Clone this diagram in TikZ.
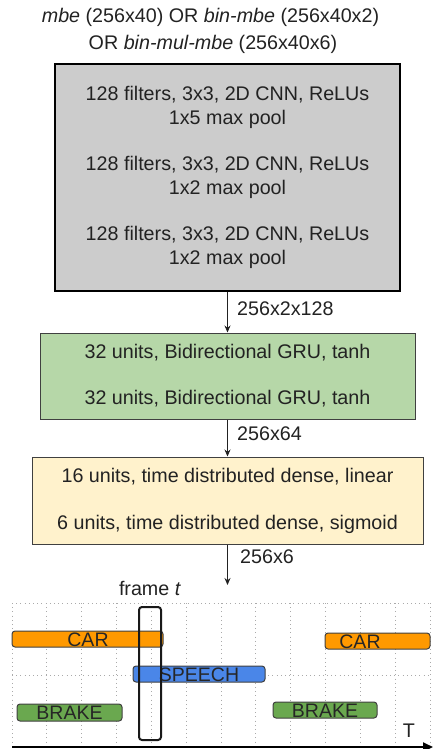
\documentclass[tikz,border=0pt]{standalone}
\usepackage{fontspec}
\setmainfont{Liberation Sans}
\usetikzlibrary{arrows.meta}
\definecolor{txt}{HTML}{222222}
\definecolor{cnnfill}{HTML}{CCCCCC}
\definecolor{grufill}{HTML}{B6D7A8}
\definecolor{densefill}{HTML}{FFF2CC}
\definecolor{carc}{HTML}{FF9900}
\definecolor{speechc}{HTML}{4A86E8}
\definecolor{brakec}{HTML}{6AA84F}
\definecolor{gridc}{HTML}{AAAAAA}
\tikzset{
  main/.style={font=\fontsize{19.7}{24}\selectfont, text=txt},
  layerbox/.style={main, rectangle, align=center, inner sep=0pt},
  flow/.style={line width=1pt, draw=txt, -{Stealth[length=7pt,width=6pt]}},
  dimlabel/.style={main, anchor=west, inner sep=0pt},
  bar/.style={rectangle, rounded corners=3pt, draw=black!75, line width=1pt, inner sep=0pt},
  barlabel/.style={font=\fontsize{19.5}{22}\selectfont, text=black!85, inner sep=0pt},
  gridline/.style={draw=gridc, line width=0.9pt, dash pattern=on 1pt off 3.2pt},
}
\begin{document}
\begin{tikzpicture}[x=1pt,y=-1pt]
\useasboundingbox (0,0) rectangle (433,749);
% title
\node[main, inner sep=0pt] (t1) at (210.5,17) {\textit{mbe} (256x40) OR \textit{bin-mbe} (256x40x2)};
\node[main, inner sep=0pt] (t2) at (213,44) {OR \textit{bin-mul-mbe} (256x40x6)};
% layer boxes
\node[layerbox, fill=cnnfill, draw=black, line width=2pt, minimum width=345pt, minimum height=227pt] (cnn) at (227.5,177.5)
  {128 filters, 3x3, 2D CNN, ReLUs\\1x5 max pool\\[22pt]128 filters, 3x3, 2D CNN, ReLUs\\1x2 max pool\\[22pt]128 filters, 3x3, 2D CNN, ReLUs\\1x2 max pool};
\node[layerbox, fill=grufill, draw=black!75, line width=1pt, minimum width=375pt, minimum height=86pt] (gru) at (227.5,376)
  {32 units, Bidirectional GRU, tanh\\[22pt]32 units, Bidirectional GRU, tanh};
\node[layerbox, fill=densefill, draw=black!75, line width=1pt, minimum width=391pt, minimum height=87pt] (dense) at (227.5,500.5)
  {16 units, time distributed dense, linear\\[23pt]6 units, time distributed dense, sigmoid};
\coordinate (out) at (227.5,585);
\draw[flow] (cnn.south) -- (gru.north);
\draw[flow] (gru.south) -- (dense.north);
\draw[flow] (dense.south) -- (out);
\node[dimlabel] (d1) at (237,309) {256x2x128};
\node[dimlabel] (d2) at (237,434) {256x64};
\node[dimlabel] (d3) at (240,557) {256x6};
% timeline grid
\foreach \k in {0,...,12} {
  \draw[gridline] (12+34.83*\k,603) -- (12+34.83*\k,745);
}
\draw[gridline] (12,603) -- (430,603);
\draw[gridline] (12,675) -- (430,675);
% bars
\node[bar, fill=carc, minimum width=151pt, minimum height=16pt] (car1) at (87.5,639) {};
\node[bar, fill=carc, minimum width=105pt, minimum height=16pt] (car2) at (377.5,641) {};
\node[bar, fill=speechc, minimum width=132pt, minimum height=16pt] (speech) at (199,674) {};
\node[bar, fill=brakec, minimum width=105pt, minimum height=17pt] (brake1) at (69.5,712.5) {};
\node[bar, fill=brakec, minimum width=104pt, minimum height=16pt] (brake2) at (325,710) {};
\node[barlabel] (car1t) at (88,639.5) {CAR};
\node[barlabel] (car2t) at (360,641.5) {CAR};
\node[barlabel] (speecht) at (199,674.5) {SPEECH};
\node[barlabel] (brake1t) at (69.5,713) {BRAKE};
\node[barlabel] (brake2t) at (325,710.5) {BRAKE};
% frame
\node[rectangle, rounded corners=3pt, draw=black!90, line width=2pt, minimum width=22pt, minimum height=133pt, inner sep=0pt] (frame) at (150,673.5) {};
\node[main, inner sep=0pt] (framet) at (150,588) {frame \textit{t}};
% axis
\coordinate (ax0) at (12,747);
\coordinate (ax1) at (433,747);
\draw[line width=2.2pt, draw=black, -{Triangle[length=10pt,width=9pt]}] (ax0) -- (ax1);
\node[main, inner sep=0pt] (T) at (409,731) {T};
\end{tikzpicture}
\end{document}
